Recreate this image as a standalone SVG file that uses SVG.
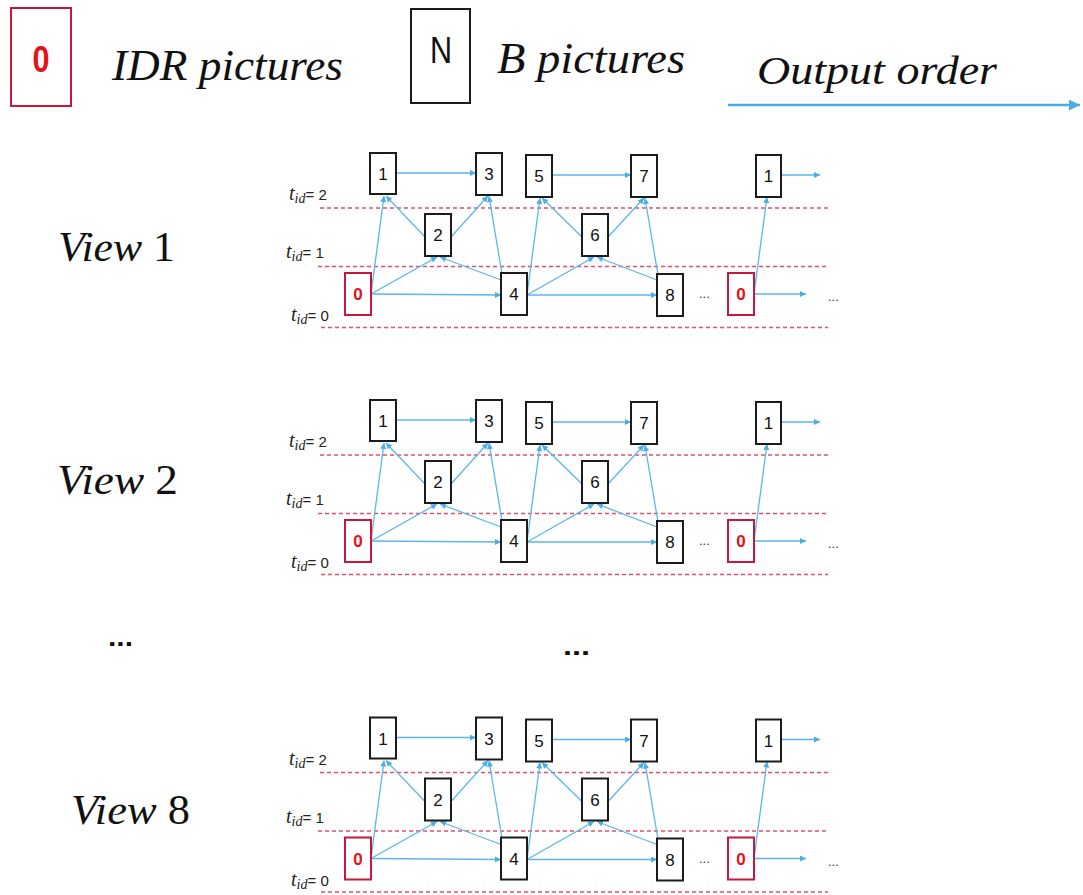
<svg xmlns="http://www.w3.org/2000/svg" width="1083" height="895" viewBox="0 0 1083 895">
<defs>
  <style>
    .nd rect{fill:#fff;stroke:#1b1b1b;stroke-width:2}
    .nd text{font-family:"Liberation Sans",Arial,sans-serif;font-size:17px;text-anchor:middle;fill:#111}
    .idr rect{stroke:#c8173f}
    .idr text{fill:#e5121b;font-weight:bold}
    .lvl{stroke:#e0506c;stroke-width:1.3;stroke-dasharray:4 3;fill:none}
    .cn line{stroke:#5ab7ea;stroke-width:1.3;marker-end:url(#ah)}
    .lab{font-family:"Liberation Serif","Times New Roman",serif;font-style:italic;fill:#111}
    .tid{font-family:"Liberation Serif","Times New Roman",serif;font-style:italic;font-size:20px;fill:#222}
    .tid .sub{font-size:14px}
    .tid .eq{font-family:"Liberation Sans",Arial,sans-serif;font-style:normal;font-size:15px}
    .dots{font-family:"Liberation Sans",Arial,sans-serif;font-size:13px;fill:#333}
    .big{font-family:"Liberation Sans",Arial,sans-serif;font-weight:bold;font-size:26px;fill:#111}
    #legend .nd text.lg{font-size:34px}
  </style>
  <marker id="ah" viewBox="0 0 10 10" refX="10" refY="5" markerWidth="7" markerHeight="6" markerUnits="userSpaceOnUse" orient="auto">
    <path d="M0,0 L10,5 L0,10 z" fill="#4aaee6"/>
  </marker>
  <marker id="ahL" viewBox="0 0 10 10" refX="10" refY="5" markerWidth="12" markerHeight="11" markerUnits="userSpaceOnUse" orient="auto">
    <path d="M0,0 L10,5 L0,10 z" fill="#4aaee6"/>
  </marker>
</defs>
<rect width="1083" height="895" fill="#fff"/>

<!-- legend -->
<g id="legend">
  <g id="legend-idr" class="nd idr">
    <rect x="11" y="8" width="60" height="98" stroke-width="3"/>
    <text class="lg" x="41" y="72" transform="translate(41 72) scale(0.9 1.1) translate(-41 -72)">0</text>
  </g>
  <text class="lab" x="112" y="80" font-size="44" textLength="231" lengthAdjust="spacingAndGlyphs">IDR pictures</text>
  <g id="legend-b" class="nd">
    <rect x="411" y="9" width="59" height="94" stroke-width="3"/>
    <text class="lg" x="441" y="63" transform="translate(441 63) scale(0.9 1.1) translate(-441 -63)">N</text>
  </g>
  <text class="lab" x="497" y="73" font-size="44" textLength="188" lengthAdjust="spacingAndGlyphs">B pictures</text>
  <text class="lab" x="757" y="84" font-size="40" textLength="240" lengthAdjust="spacingAndGlyphs">Output order</text>
  <line x1="728" y1="105" x2="1080" y2="105" stroke="#4aaee6" stroke-width="2.5" marker-end="url(#ahL)"/>
</g>

<!-- view labels -->
<text class="lab" x="58" y="261" font-size="42" textLength="117" lengthAdjust="spacingAndGlyphs">View <tspan font-style="normal">1</tspan></text>
<text class="lab" x="57" y="494" font-size="42" textLength="121" lengthAdjust="spacingAndGlyphs">View <tspan font-style="normal">2</tspan></text>
<text class="lab" x="71" y="824" font-size="42" textLength="119" lengthAdjust="spacingAndGlyphs">View <tspan font-style="normal">8</tspan></text>
<text class="big" x="108" y="646" textLength="25" lengthAdjust="spacingAndGlyphs">...</text>
<text class="big" x="563" y="655" textLength="27" lengthAdjust="spacingAndGlyphs">...</text>

<!-- view 1 -->
<g id="view1">
  <g id="v1-levels">
    <line class="lvl" x1="320" y1="208" x2="828" y2="208"/>
    <line class="lvl" x1="318" y1="266.5" x2="828" y2="266.5"/>
    <line class="lvl" x1="321" y1="327.5" x2="828" y2="327.5"/>
    <text class="tid" x="289" y="200">t<tspan class="sub" dy="3">id</tspan><tspan class="eq" dy="-3">= 2</tspan></text>
    <text class="tid" x="286" y="258">t<tspan class="sub" dy="3">id</tspan><tspan class="eq" dy="-3">= 1</tspan></text>
    <text class="tid" x="291" y="321">t<tspan class="sub" dy="3">id</tspan><tspan class="eq" dy="-3">= 0</tspan></text>
  </g>
  <g id="v1-connectors" class="cn">
    <line x1="371" y1="294" x2="384" y2="196"/>
    <line x1="371" y1="294" x2="437" y2="257"/>
    <line x1="371" y1="294" x2="501" y2="295"/>
    <line x1="501" y1="280" x2="440" y2="257"/>
    <line x1="425" y1="237" x2="386" y2="196"/>
    <line x1="451" y1="237" x2="488" y2="196"/>
    <line x1="502" y1="274" x2="489" y2="196"/>
    <line x1="396" y1="173" x2="476" y2="173"/>
    <line x1="527" y1="295" x2="540" y2="198"/>
    <line x1="527" y1="295" x2="594" y2="257"/>
    <line x1="527" y1="295" x2="657" y2="295"/>
    <line x1="657" y1="280" x2="597" y2="257"/>
    <line x1="582" y1="237" x2="542" y2="198"/>
    <line x1="608" y1="237" x2="644" y2="198"/>
    <line x1="658" y1="275" x2="645" y2="198"/>
    <line x1="552" y1="175" x2="631" y2="175"/>
    <line x1="754" y1="294" x2="767" y2="197"/>
    <line x1="781" y1="175" x2="820" y2="175"/>
    <line x1="754" y1="294" x2="806" y2="294"/>
  </g>
  <g id="v1-n0" class="nd idr"><rect x="345" y="273" width="26" height="42"/><text x="358" y="300">0</text></g>
  <g id="v1-n1" class="nd"><rect x="370" y="153" width="26" height="41"/><text x="383" y="180">1</text></g>
  <g id="v1-n2" class="nd"><rect x="425" y="214" width="26" height="42"/><text x="438" y="241">2</text></g>
  <g id="v1-n3" class="nd"><rect x="476" y="153" width="26" height="42"/><text x="489" y="180">3</text></g>
  <g id="v1-n4" class="nd"><rect x="501" y="273" width="26" height="42"/><text x="514" y="300">4</text></g>
  <g id="v1-n5" class="nd"><rect x="526" y="155" width="26" height="42"/><text x="539" y="182">5</text></g>
  <g id="v1-n6" class="nd"><rect x="582" y="214" width="26" height="42"/><text x="595" y="241">6</text></g>
  <g id="v1-n7" class="nd"><rect x="631" y="155" width="26" height="42"/><text x="644" y="182">7</text></g>
  <g id="v1-n8" class="nd"><rect x="657" y="274" width="26" height="42"/><text x="670" y="301">8</text></g>
  <g id="v1-n0b" class="nd idr"><rect x="728" y="273" width="26" height="42"/><text x="741" y="300">0</text></g>
  <g id="v1-n1b" class="nd"><rect x="756" y="155" width="25" height="42"/><text x="768.5" y="182">1</text></g>
  <text class="dots" x="699" y="298">...</text>
  <text class="dots" x="828" y="301">...</text>
</g>

<!-- view 2 -->
<g id="view2" transform="translate(0,247)">
  <g id="v2-levels">
    <line class="lvl" x1="320" y1="208" x2="828" y2="208"/>
    <line class="lvl" x1="318" y1="266.5" x2="828" y2="266.5"/>
    <line class="lvl" x1="321" y1="327.5" x2="828" y2="327.5"/>
    <text class="tid" x="289" y="200">t<tspan class="sub" dy="3">id</tspan><tspan class="eq" dy="-3">= 2</tspan></text>
    <text class="tid" x="286" y="258">t<tspan class="sub" dy="3">id</tspan><tspan class="eq" dy="-3">= 1</tspan></text>
    <text class="tid" x="291" y="321">t<tspan class="sub" dy="3">id</tspan><tspan class="eq" dy="-3">= 0</tspan></text>
  </g>
  <g id="v2-connectors" class="cn">
    <line x1="371" y1="294" x2="384" y2="196"/>
    <line x1="371" y1="294" x2="437" y2="257"/>
    <line x1="371" y1="294" x2="501" y2="295"/>
    <line x1="501" y1="280" x2="440" y2="257"/>
    <line x1="425" y1="237" x2="386" y2="196"/>
    <line x1="451" y1="237" x2="488" y2="196"/>
    <line x1="502" y1="274" x2="489" y2="196"/>
    <line x1="396" y1="173" x2="476" y2="173"/>
    <line x1="527" y1="295" x2="540" y2="198"/>
    <line x1="527" y1="295" x2="594" y2="257"/>
    <line x1="527" y1="295" x2="657" y2="295"/>
    <line x1="657" y1="280" x2="597" y2="257"/>
    <line x1="582" y1="237" x2="542" y2="198"/>
    <line x1="608" y1="237" x2="644" y2="198"/>
    <line x1="658" y1="275" x2="645" y2="198"/>
    <line x1="552" y1="175" x2="631" y2="175"/>
    <line x1="754" y1="294" x2="767" y2="197"/>
    <line x1="781" y1="175" x2="820" y2="175"/>
    <line x1="754" y1="294" x2="806" y2="294"/>
  </g>
  <g id="v2-n0" class="nd idr"><rect x="345" y="273" width="26" height="42"/><text x="358" y="300">0</text></g>
  <g id="v2-n1" class="nd"><rect x="370" y="153" width="26" height="41"/><text x="383" y="180">1</text></g>
  <g id="v2-n2" class="nd"><rect x="425" y="214" width="26" height="42"/><text x="438" y="241">2</text></g>
  <g id="v2-n3" class="nd"><rect x="476" y="153" width="26" height="42"/><text x="489" y="180">3</text></g>
  <g id="v2-n4" class="nd"><rect x="501" y="273" width="26" height="42"/><text x="514" y="300">4</text></g>
  <g id="v2-n5" class="nd"><rect x="526" y="155" width="26" height="42"/><text x="539" y="182">5</text></g>
  <g id="v2-n6" class="nd"><rect x="582" y="214" width="26" height="42"/><text x="595" y="241">6</text></g>
  <g id="v2-n7" class="nd"><rect x="631" y="155" width="26" height="42"/><text x="644" y="182">7</text></g>
  <g id="v2-n8" class="nd"><rect x="657" y="274" width="26" height="42"/><text x="670" y="301">8</text></g>
  <g id="v2-n0b" class="nd idr"><rect x="728" y="273" width="26" height="42"/><text x="741" y="300">0</text></g>
  <g id="v2-n1b" class="nd"><rect x="756" y="155" width="25" height="42"/><text x="768.5" y="182">1</text></g>
  <text class="dots" x="699" y="298">...</text>
  <text class="dots" x="828" y="301">...</text>
</g>

<!-- view 8 -->
<g id="view8" transform="translate(0,564.5)">
  <g id="v8-levels">
    <line class="lvl" x1="320" y1="208" x2="828" y2="208"/>
    <line class="lvl" x1="318" y1="266.5" x2="828" y2="266.5"/>
    <line class="lvl" x1="321" y1="327.5" x2="828" y2="327.5"/>
    <text class="tid" x="289" y="200">t<tspan class="sub" dy="3">id</tspan><tspan class="eq" dy="-3">= 2</tspan></text>
    <text class="tid" x="286" y="258">t<tspan class="sub" dy="3">id</tspan><tspan class="eq" dy="-3">= 1</tspan></text>
    <text class="tid" x="291" y="321">t<tspan class="sub" dy="3">id</tspan><tspan class="eq" dy="-3">= 0</tspan></text>
  </g>
  <g id="v8-connectors" class="cn">
    <line x1="371" y1="294" x2="384" y2="196"/>
    <line x1="371" y1="294" x2="437" y2="257"/>
    <line x1="371" y1="294" x2="501" y2="295"/>
    <line x1="501" y1="280" x2="440" y2="257"/>
    <line x1="425" y1="237" x2="386" y2="196"/>
    <line x1="451" y1="237" x2="488" y2="196"/>
    <line x1="502" y1="274" x2="489" y2="196"/>
    <line x1="396" y1="173" x2="476" y2="173"/>
    <line x1="527" y1="295" x2="540" y2="198"/>
    <line x1="527" y1="295" x2="594" y2="257"/>
    <line x1="527" y1="295" x2="657" y2="295"/>
    <line x1="657" y1="280" x2="597" y2="257"/>
    <line x1="582" y1="237" x2="542" y2="198"/>
    <line x1="608" y1="237" x2="644" y2="198"/>
    <line x1="658" y1="275" x2="645" y2="198"/>
    <line x1="552" y1="175" x2="631" y2="175"/>
    <line x1="754" y1="294" x2="767" y2="197"/>
    <line x1="781" y1="175" x2="820" y2="175"/>
    <line x1="754" y1="294" x2="806" y2="294"/>
  </g>
  <g id="v8-n0" class="nd idr"><rect x="345" y="273" width="26" height="42"/><text x="358" y="300">0</text></g>
  <g id="v8-n1" class="nd"><rect x="370" y="153" width="26" height="41"/><text x="383" y="180">1</text></g>
  <g id="v8-n2" class="nd"><rect x="425" y="214" width="26" height="42"/><text x="438" y="241">2</text></g>
  <g id="v8-n3" class="nd"><rect x="476" y="153" width="26" height="42"/><text x="489" y="180">3</text></g>
  <g id="v8-n4" class="nd"><rect x="501" y="273" width="26" height="42"/><text x="514" y="300">4</text></g>
  <g id="v8-n5" class="nd"><rect x="526" y="155" width="26" height="42"/><text x="539" y="182">5</text></g>
  <g id="v8-n6" class="nd"><rect x="582" y="214" width="26" height="42"/><text x="595" y="241">6</text></g>
  <g id="v8-n7" class="nd"><rect x="631" y="155" width="26" height="42"/><text x="644" y="182">7</text></g>
  <g id="v8-n8" class="nd"><rect x="657" y="274" width="26" height="42"/><text x="670" y="301">8</text></g>
  <g id="v8-n0b" class="nd idr"><rect x="728" y="273" width="26" height="42"/><text x="741" y="300">0</text></g>
  <g id="v8-n1b" class="nd"><rect x="756" y="155" width="25" height="42"/><text x="768.5" y="182">1</text></g>
  <text class="dots" x="699" y="298">...</text>
  <text class="dots" x="828" y="301">...</text>
</g>
</svg>
